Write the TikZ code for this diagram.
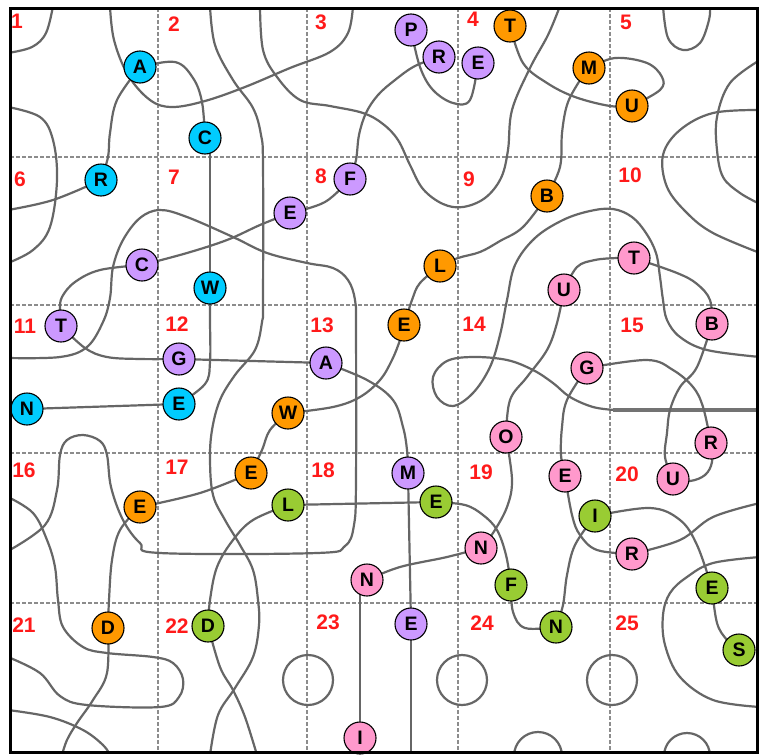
\documentclass[tikz,border=0pt]{standalone}
\usepackage{fontspec}
\setmainfont{Liberation Sans}
\pgfdeclarelayer{bg}
\pgfsetlayers{bg,main}
\definecolor{ccyan}{HTML}{00CCFF}
\definecolor{cpurple}{HTML}{CC99FF}
\definecolor{corange}{HTML}{FF9900}
\definecolor{cpink}{HTML}{FF99CC}
\definecolor{cgreen}{HTML}{99CC33}
\definecolor{numred}{HTML}{FF1A1A}
\tikzset{
  letter/.style={circle, draw=black, line width=1.1pt, minimum size=32pt, inner sep=0pt,
    font=\fontsize{19.5}{19.5}\selectfont\bfseries},
  cy/.style={letter, fill=ccyan},
  pu/.style={letter, fill=cpurple},
  og/.style={letter, fill=corange},
  pk/.style={letter, fill=cpink},
  gr/.style={letter, fill=cgreen},
  num/.style={text=numred, inner sep=0pt, font=\fontsize{21}{21}\selectfont\bfseries},
  curve/.style={draw=black!60, line width=2.2pt, line cap=round, line join=round},
  gridline/.style={draw=black!45, line width=1.6pt, dash pattern=on 4pt off 2pt},
  frame/.style={draw=black, line width=3pt},
}
\begin{document}
\begin{tikzpicture}[x=1pt,y=-1pt]
\useasboundingbox (0,0) rectangle (765,755);
% ---------- cell numbers ----------
\node[num] (n1) at (17,21) {1};
\node[num] (n2) at (174,24) {2};
\node[num] (n3) at (321,22) {3};
\node[num] (n4) at (473,19) {4};
\node[num] (n5) at (626,22) {5};
\node[num] (n6) at (20,179) {6};
\node[num] (n7) at (174,177) {7};
\node[num] (n8) at (321,176) {8};
\node[num] (n9) at (469,179) {9};
\node[num] (n10) at (630,175) {10};
\node[num] (n11) at (25,326) {11};
\node[num] (n12) at (177,324) {12};
\node[num] (n13) at (322,325) {13};
\node[num] (n14) at (474,324) {14};
\node[num] (n15) at (632,325) {15};
\node[num] (n16) at (24,470) {16};
\node[num] (n17) at (177,467) {17};
\node[num] (n18) at (323,470) {18};
\node[num] (n19) at (481,472) {19};
\node[num] (n20) at (627,474) {20};
\node[num] (n21) at (24,625) {21};
\node[num] (n22) at (177,626) {22};
\node[num] (n23) at (328,622) {23};
\node[num] (n24) at (482,623) {24};
\node[num] (n25) at (627,623) {25};
% ---------- letters ----------
\node[cy] (cA) at (140,67) {A};
\node[cy] (cC) at (205,138) {C};
\node[cy] (cR) at (101,180) {R};
\node[cy] (cW) at (210,288) {W};
\node[cy] (cE) at (179,404) {E};
\node[cy] (cN) at (27,409) {N};
\node[pu] (pP) at (411,30) {P};
\node[pu] (pR) at (439,57) {R};
\node[pu] (pE1) at (478,63) {E};
\node[pu] (pF) at (350,179) {F};
\node[pu] (pE2) at (290,213) {E};
\node[pu] (pC) at (142,265) {C};
\node[pu] (pT) at (61,326) {T};
\node[pu] (pG) at (179,359) {G};
\node[pu] (pA) at (326,363) {A};
\node[pu] (pM) at (408,473) {M};
\node[pu] (pE3) at (411,624) {E};
\node[og] (oT) at (510,26) {T};
\node[og] (oU) at (632,106) {U};
\node[og] (oM) at (589,68) {M};
\node[og] (oB) at (547,196) {B};
\node[og] (oL) at (440,266) {L};
\node[og] (oE1) at (404,325) {E};
\node[og] (oW) at (288,413) {W};
\node[og] (oE2) at (251,473) {E};
\node[og] (oE3) at (140,507) {E};
\node[og] (oD) at (108,628) {D};
\node[pk] (kT) at (634,258) {T};
\node[pk] (kU) at (564,290) {U};
\node[pk] (kB) at (712,324) {B};
\node[pk] (kG) at (587,368) {G};
\node[pk] (kO) at (506,437) {O};
\node[pk] (kR1) at (711,443) {R};
\node[pk] (kE) at (565,476) {E};
\node[pk] (kU2) at (673,479) {U};
\node[pk] (kN1) at (481,548) {N};
\node[pk] (kN2) at (367,580) {N};
\node[pk] (kR2) at (632,554) {R};
\node[pk] (kI) at (360,738) {I};
\node[gr] (gL) at (288,505) {L};
\node[gr] (gE1) at (436,502) {E};
\node[gr] (gF) at (511,585) {F};
\node[gr] (gN) at (556,627) {N};
\node[gr] (gI) at (595,516) {I};
\node[gr] (gE2) at (712,588) {E};
\node[gr] (gS) at (739,650) {S};
\node[gr] (gD) at (208,626) {D};
% ---------- background: grid and curves ----------
\begin{pgfonlayer}{bg}
\fill[white] (0,0) rectangle (765,755);
\foreach \x in {158,307,458,610} \draw[gridline] (\x,8) -- (\x,752);
\foreach \y in {157,305,453,603} \draw[gridline] (10,\y) -- (757,\y);
\begin{scope}
\clip (10,8) rectangle (757,752);
% free curves
\draw[curve] plot[smooth, tension=0.6] coordinates {(53,6) (46,33) (32,47) (8,53)};
\draw[curve] plot[smooth, tension=0.6] coordinates {(110,6) (114,40) (128,75) (150,100) (172,107) (205,101) (245,87) (290,68) (330,52) (348,33) (353,6)};
\draw[curve] plot[smooth, tension=0.6] coordinates {(210,6) (215,45) (233,80) (253,108) (261,135) (263,165) (263,300) (262,322) (255,350) (235,375) (220,400) (212,430) (210,460) (213,495) (225,520) (240,545) (253,570) (258,600) (259,625) (253,657) (235,688) (218,715) (210,755)};
\draw[curve] plot[smooth, tension=0.6] coordinates {(260,6) (263,50) (277,77) (300,100) (330,106) (363,113) (383,124) (398,140) (410,165) (423,189) (443,204) (463,207) (485,198) (501,178) (508,150) (512,110) (530,68) (548,35) (560,6)};
\draw[curve] plot[smooth, tension=0.6] coordinates {(760,357) (707,350) (680,337) (667,320) (663,300) (660,277) (656,253) (646,233) (632,217) (613,209) (590,211) (563,220) (535,238) (515,265) (507,300) (500,335) (490,367) (473,393) (453,406) (437,397) (433,377) (447,361) (473,357) (507,360) (533,370) (553,383) (570,397) (593,407) (615,410)};
\draw[draw=black!55, line width=3.5pt] (613,410) -- (760,410);
\draw[curve] plot[smooth, tension=0.6] coordinates {(663,6) (668,38) (683,50) (700,43) (709,20) (710,6)};
\draw[curve] plot[smooth, tension=0.6] coordinates {(760,110) (713,113) (680,130) (663,155) (667,187) (687,213) (713,233) (760,253)};
\draw[curve] plot[smooth, tension=0.6] coordinates {(760,60) (730,83) (717,117) (717,150) (723,177) (740,193) (760,204)};
\draw[curve] plot[smooth, tension=0.6] coordinates {(760,557) (713,563) (687,577) (670,593) (663,615) (665,645) (680,677) (713,700) (760,707)};
\draw[curve] plot[smooth, tension=0.6] coordinates {(8,358) (60,357) (87,347) (103,322) (110,298) (113,267) (123,240) (140,218) (160,210) (187,217) (233,237) (267,253) (307,263) (333,268) (348,280) (355,300) (356,330) (356,480) (354,525) (345,546) (317,553) (160,553) (140,543) (123,520) (111,487) (107,455) (100,441) (83,435) (67,440) (60,455) (57,490) (45,525) (8,551)};
\draw[curve] plot[smooth, tension=0.6] coordinates {(8,497) (33,513) (47,540) (55,567) (58,600) (63,627) (83,647) (107,653) (153,657) (173,663) (183,679) (179,697) (160,707) (87,705) (60,696) (40,673) (8,657)};
\draw[curve] plot[smooth, tension=0.6] coordinates {(8,710) (50,717) (83,730) (103,745) (110,755)};
\draw[curve] plot[smooth, tension=0.6] coordinates {(8,107) (40,117) (53,140) (57,180) (50,227) (33,250) (8,263)};
\draw[curve] (308,680) circle[radius=25];
\draw[curve] (462,680) circle[radius=25];
\draw[curve] (612,680) circle[radius=25];
\draw[curve] (538,756) circle[radius=24];
\draw[curve] (687,756) circle[radius=23];
% cyan connectors
\draw[curve] plot[smooth, tension=0.6] coordinates {(cA) (175,62) (193,78) (202,102) (cC)};
\draw[curve] plot[smooth, tension=0.6] coordinates {(cA) (117,100) (110,133) (108,157) (cR)};
\draw[curve] (cW |- cC) -- (cW);
\draw[curve] plot[smooth, tension=0.6] coordinates {(cW) (210,320) (210,362) (205,384) (cE)};
\draw[curve] (cE) -- (cN);
\draw[curve] plot[smooth, tension=0.6] coordinates {(cR) (53,200) (8,210)};
% purple connectors
\draw[curve] plot[smooth, tension=0.6] coordinates {(pP) (420,67) (433,90) (453,103) (470,100) (pE1)};
\draw[curve] plot[smooth, tension=0.6] coordinates {(pR) (415,66) (395,80) (378,95) (366,113) (359,135) (356,160) (pF)};
\draw[curve] plot[smooth, tension=0.6] coordinates {(pE2) (325,202) (pF)};
\draw[curve] plot[smooth, tension=0.6] coordinates {(pC) (187,253) (227,240) (260,225) (pE2)};
\draw[curve] plot[smooth, tension=0.6] coordinates {(pC) (100,270) (75,282) (62,297) (60,310) (pT)};
\draw[curve] plot[smooth, tension=0.6] coordinates {(pT) (85,348) (107,357) (140,359) (pG)};
\draw[curve] (pG) -- (pA);
\draw[curve] plot[smooth, tension=0.6] coordinates {(pA) (367,380) (393,400) (403,427) (407,450) (pM)};
\draw[curve] (pM) -- (pE3);
\draw[curve] (pE3) -- (411,755);
% orange connectors
\draw[curve] plot[smooth, tension=0.6] coordinates {(oT) (523,63) (547,83) (575,97) (610,106) (oU)};
\draw[curve] plot[smooth, tension=0.6] coordinates {(oU) (660,90) (662,77) (647,63) (615,58) (oM)};
\draw[curve] plot[smooth, tension=0.6] coordinates {(oM) (577,85) (567,105) (562,133) (560,167) (oB)};
\draw[curve] plot[smooth, tension=0.6] coordinates {(oB) (523,227) (500,241) (480,252) (458,258) (oL)};
\draw[curve] plot[smooth, tension=0.6] coordinates {(oL) (420,283) (412,300) (oE1)};
\draw[curve] plot[smooth, tension=0.6] coordinates {(oW) (333,407) (360,397) (380,380) (392,360) (400,340) (oE1)};
\draw[curve] plot[smooth, tension=0.6] coordinates {(oW) (270,430) (262,450) (oE2)};
\draw[curve] plot[smooth, tension=0.6] coordinates {(oE2) (200,493) (oE3)};
\draw[curve] plot[smooth, tension=0.6] coordinates {(oE3) (120,530) (112,560) (109,600) (oD)};
\draw[curve] plot[smooth, tension=0.6] coordinates {(oD) (107,673) (93,700) (77,723) (67,740) (62,755)};
% pink connectors
\draw[curve] plot[smooth, tension=0.6] coordinates {(kO) (510,400) (527,377) (547,350) (557,323) (kU)};
\draw[curve] plot[smooth, tension=0.6] coordinates {(kU) (577,267) (595,260) (617,258) (kT)};
\draw[curve] plot[smooth, tension=0.6] coordinates {(kT) (677,273) (697,284) (710,300) (kB)};
\draw[curve] plot[smooth, tension=0.6] coordinates {(kB) (697,367) (680,387) (670,410) (667,433) (665,457) (kU2)};
\draw[curve] plot[smooth, tension=0.6] coordinates {(kG) (647,360) (673,370) (693,387) (703,407) (kR1)};
\draw[curve] plot[smooth, tension=0.6] coordinates {(kR1) (712,462) (705,475) (690,481) (kU2)};
\draw[curve] plot[smooth, tension=0.6] coordinates {(kG) (567,400) (562,427) (561,455) (kE)};
\draw[curve] plot[smooth, tension=0.6] coordinates {(kE) (572,515) (580,535) (597,550) (kR2)};
\draw[curve] plot[smooth, tension=0.6] coordinates {(kR2) (680,540) (713,517) (760,503)};
\draw[curve] plot[smooth, tension=0.6] coordinates {(kN1) (447,557) (400,567) (kN2)};
\draw[curve] plot[smooth, tension=0.6] coordinates {(kN1) (493,533) (507,507) (512,480) (kO)};
\draw[curve] (kI |- kN2) -- (kI);
% green connectors
\draw[curve] (gL) -- (gE1);
\draw[curve] plot[smooth, tension=0.6] coordinates {(gE1) (465,505) (483,515) (497,530) (506,555) (gF)};
\draw[curve] plot[smooth, tension=0.6] coordinates {(gF) (513,612) (525,628) (gN)};
\draw[curve] plot[smooth, tension=0.6] coordinates {(gI) (575,545) (567,575) (563,605) (gN)};
\draw[curve] plot[smooth, tension=0.6] coordinates {(gI) (650,508) (680,520) (697,545) (gE2)};
\draw[curve] plot[smooth, tension=0.6] coordinates {(gE2) (717,623) (727,640) (gS)};
\draw[curve] plot[smooth, tension=0.6] coordinates {(gL) (253,520) (233,540) (217,567) (210,600) (gD)};
\draw[curve] plot[smooth, tension=0.6] coordinates {(gD) (220,667) (233,690) (245,717) (257,755)};
\end{scope}
\end{pgfonlayer}
\draw[frame] (10,8) rectangle (757,752);
\end{tikzpicture}
\end{document}
